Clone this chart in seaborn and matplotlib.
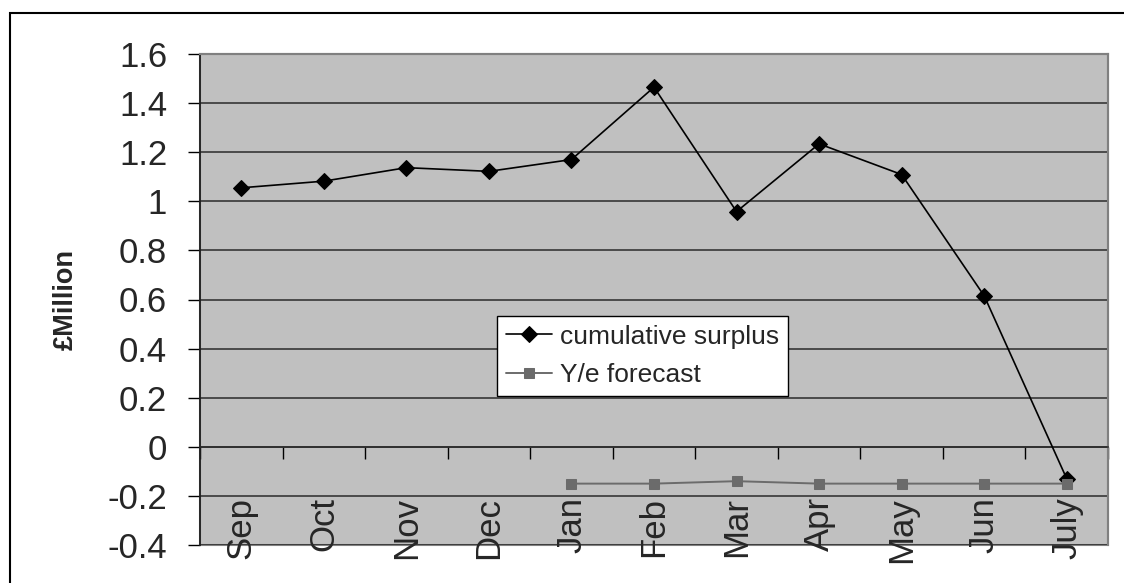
import matplotlib
matplotlib.use("Agg")
import matplotlib.pyplot as plt
from matplotlib.patches import Rectangle
from matplotlib.ticker import FixedLocator, FuncFormatter
import seaborn as sns
import pandas as pd

# Monthly figures (£ million)
months = ["Sep", "Oct", "Nov", "Dec", "Jan", "Feb", "Mar", "Apr", "May", "Jun", "July"]
cumulative_surplus = [1.055, 1.082, 1.137, 1.122, 1.17, 1.465, 0.958, 1.234, 1.109, 0.615, -0.13]
forecast_months = ["Jan", "Feb", "Mar", "Apr", "May", "Jun", "July"]
ye_forecast = [-0.15, -0.15, -0.14, -0.15, -0.15, -0.15, -0.15]
y_ticks = [-0.4, -0.2, 0, 0.2, 0.4, 0.6, 0.8, 1, 1.2, 1.4, 1.6]

sns.set_style("white")
plt.rcParams["font.family"] = ["Liberation Sans", "DejaVu Sans"]
plt.rcParams["axes.unicode_minus"] = False

surplus_df = pd.DataFrame({"pos": range(len(months)), "value": cumulative_surplus})
forecast_df = pd.DataFrame({"pos": [months.index(m) for m in forecast_months],
                            "value": ye_forecast})

W, H = 1124, 583
fig = plt.figure(figsize=(W / 100, H / 100), dpi=100)
ax = fig.add_axes([200 / W, 38 / H, 908 / W, 491 / H])
ax.set_facecolor("#c0c0c0")
ax.patch.set_edgecolor("#808080")
ax.patch.set_linewidth(1.5)

sns.lineplot(data=surplus_df, x="pos", y="value", ax=ax, color="black",
             marker="D", markersize=8, markeredgecolor="black", linewidth=1.2,
             label="cumulative surplus", sort=False, zorder=3)
sns.lineplot(data=forecast_df, x="pos", y="value", ax=ax, color="#6b6b6b",
             marker="s", markersize=7.5, markeredgecolor="#6b6b6b", linewidth=1.4,
             label="Y/e forecast", sort=False, zorder=4)

ax.set_xlim(-0.5, len(months) - 0.5)
ax.set_ylim(-0.4, 1.6)

# horizontal gridlines
ax.set_yticks(y_ticks)
ax.yaxis.set_major_formatter(FuncFormatter(lambda v, _: f"{v:g}"))
ax.yaxis.grid(True, color="#2a2a2a", linewidth=1.1)
ax.xaxis.grid(False)
ax.set_axisbelow(True)
ax.tick_params(axis="y", which="major", direction="out", length=8.6, width=1,
               color="black", labelsize=25, pad=15, left=True)

# category axis crossing at zero
ax.spines["bottom"].set_position(("data", 0))
ax.spines["bottom"].set_color("#2a2a2a")
ax.spines["bottom"].set_linewidth(1.1)
ax.spines["left"].set_color("#202020")
ax.spines["left"].set_linewidth(1.3)
for s in ("top", "right"):
    ax.spines[s].set_color("#808080")
    ax.spines[s].set_linewidth(1.5)

ax.set_xticks(range(len(months)))
ax.set_xticklabels(months, rotation=90, va="top", ha="center")
ax.xaxis.set_minor_locator(FixedLocator([i - 0.5 for i in range(len(months) + 1)]))
ax.tick_params(axis="x", which="major", length=0, labelsize=25, pad=36, bottom=True)
ax.tick_params(axis="x", which="minor", direction="out", length=8.6, width=1,
               color="black", bottom=True)
ax.set_xlabel("")

ax.set_ylabel("£Million", fontsize=19.5, fontweight="bold")
ax.yaxis.set_label_coords(-0.134, 0.5)

leg = ax.legend(loc="upper left", bbox_to_anchor=(497 / W, 1 - 316 / H),
                bbox_transform=fig.transFigure, frameon=True, fancybox=False,
                edgecolor="black", framealpha=1, borderaxespad=0, fontsize=19,
                handlelength=1.75, handletextpad=0.3, borderpad=0.33,
                labelspacing=0.55)
leg.get_frame().set_linewidth(1.0)
leg.set_zorder(10)

# chart border
fig.add_artist(Rectangle((10 / W, -0.1), 1.2, 1.1 - 13 / H, transform=fig.transFigure,
                         fill=False, edgecolor="black", linewidth=1.5))

fig.savefig("out.png", dpi=100)
